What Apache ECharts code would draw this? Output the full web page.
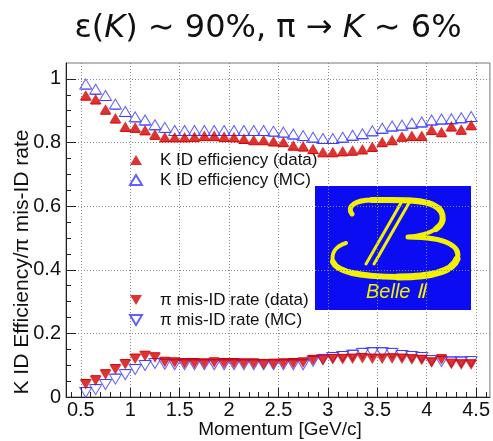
<!DOCTYPE html>
<html>
<head>
<meta charset="utf-8">
<script src="https://cdn.jsdelivr.net/npm/echarts@6/dist/echarts.min.js"></script>
<style>
  html, body { margin: 0; padding: 0; background: #fff; }
  #chart { width: 493px; height: 441px; }
</style>
</head>
<body>
<div id="chart"></div>
<script>
// Bin centres of the momentum histogram [GeV/c]
const momentum = [
  0.55, 0.65, 0.75, 0.85, 0.95, 1.05, 1.15, 1.25, 1.35, 1.45,
  1.55, 1.65, 1.75, 1.85, 1.95, 2.05, 2.15, 2.25, 2.35, 2.45,
  2.55, 2.65, 2.75, 2.85, 2.95, 3.05, 3.15, 3.25, 3.35, 3.45,
  3.55, 3.65, 3.75, 3.85, 3.95, 4.05, 4.15, 4.25, 4.35, 4.45
];

// Kaon identification efficiency
const kEffData = [
  0.933, 0.921, 0.889, 0.861, 0.835, 0.832, 0.824, 0.810, 0.802, 0.802,
  0.802, 0.803, 0.806, 0.806, 0.803, 0.802, 0.797, 0.793, 0.793, 0.789,
  0.787, 0.776, 0.773, 0.765, 0.755, 0.755, 0.758, 0.760, 0.764, 0.772,
  0.787, 0.793, 0.804, 0.806, 0.806, 0.825, 0.818, 0.836, 0.826, 0.840
];
const kEffMC = [
  0.968, 0.952, 0.932, 0.905, 0.882, 0.865, 0.855, 0.840, 0.832, 0.822,
  0.822, 0.822, 0.822, 0.822, 0.822, 0.822, 0.822, 0.822, 0.822, 0.820,
  0.817, 0.811, 0.806, 0.801, 0.797, 0.797, 0.801, 0.807, 0.812, 0.821,
  0.829, 0.836, 0.839, 0.845, 0.849, 0.855, 0.858, 0.859, 0.862, 0.866
];

// Pion mis-identification rate
const piMisData = [
  0.055, 0.067, 0.086, 0.102, 0.118, 0.135, 0.144, 0.139, 0.125, 0.123,
  0.121, 0.121, 0.120, 0.123, 0.121, 0.121, 0.120, 0.120, 0.118, 0.119,
  0.120, 0.121, 0.123, 0.131, 0.131, 0.134, 0.134, 0.135, 0.137, 0.135,
  0.135, 0.136, 0.135, 0.133, 0.131, 0.123, 0.133, 0.119, 0.117, 0.117
];
const piMisMC = [
  0.030, 0.039, 0.055, 0.072, 0.086, 0.102, 0.115, 0.121, 0.119, 0.117,
  0.117, 0.117, 0.117, 0.117, 0.117, 0.117, 0.117, 0.117, 0.117, 0.117,
  0.117, 0.117, 0.117, 0.128, 0.134, 0.140, 0.143, 0.147, 0.153, 0.155,
  0.155, 0.153, 0.146, 0.143, 0.140, 0.130, 0.127, 0.126, 0.126, 0.127
];

// Axis tick values
const xTickValues = [0.5, 1, 1.5, 2, 2.5, 3, 3.5, 4, 4.5];
const yTickValues = [0, 0.2, 0.4, 0.6, 0.8, 1];

const seriesNames = [
  'K ID efficiency (data)', 'K ID efficiency (MC)',
  'π mis-ID rate (data)', 'π mis-ID rate (MC)'
];

const X_MIN = 0.35, X_MAX = 4.64, Y_MIN = 0, Y_MAX = 1.05;
const BIN_HALF = 0.05;
const RED = '#d40000';
const BLUE = '#3a3aff';
const YELLOW = '#f2f200';
const LABEL_FONT = '"Liberation Sans", Arial, sans-serif';
const DOWN_TRIANGLE = 'path://M0,0 L12,0 L6,10 Z';

// minor tick positions derived from the major ticks
const xMinor = [];
for (let i = 0; i < xTickValues.length - 1; i++) {
  for (let k = 1; k < 5; k++) xMinor.push(+(xTickValues[i] + k * 0.1).toFixed(2));
}
xMinor.unshift(0.4); xMinor.push(4.6);
const yMinor = [];
for (let i = 0; i < yTickValues.length - 1; i++) {
  for (let k = 1; k < 4; k++) yMinor.push(+(yTickValues[i] + k * 0.05).toFixed(2));
}

const pairs = arr => momentum.map((x, i) => [x, arr[i]]);

// horizontal bin-width bars of the histogram points
function binBars(values, color, z) {
  return {
    type: 'custom',
    z: z,
    silent: true,
    data: pairs(values),
    renderItem: function (params, api) {
      const x = api.value(0), y = api.value(1);
      const p1 = api.coord([x - BIN_HALF, y]);
      const p2 = api.coord([x + BIN_HALF, y]);
      return {
        type: 'line',
        shape: { x1: p1[0], y1: p1[1], x2: p2[0], y2: p2[1] },
        style: { stroke: color, lineWidth: 1 }
      };
    }
  };
}

function markers(name, values, filled, down, z) {
  return {
    type: 'scatter',
    name: name,
    z: z,
    data: pairs(values),
    symbol: down ? DOWN_TRIANGLE : 'triangle',
    symbolSize: [12, 10],
    symbolOffset: [0, down ? 5 : -5],
    itemStyle: filled
      ? { color: RED }
      : { color: 'rgba(255,255,255,0)', borderColor: BLUE, borderWidth: 1 },
    emphasis: { disabled: true }
  };
}

// pieces of the logo letter
function curve(p, w) {
  return {
    type: 'bezierCurve',
    shape: { x1: p[0], y1: p[1], cpx1: p[2], cpy1: p[3], cpx2: p[4], cpy2: p[5], x2: p[6], y2: p[7] },
    style: { fill: null, stroke: YELLOW, lineWidth: w, lineCap: 'round' }
  };
}
function seg(p, w) {
  return {
    type: 'line',
    shape: { x1: p[0], y1: p[1], x2: p[2], y2: p[3] },
    style: { stroke: YELLOW, lineWidth: w, lineCap: 'round' }
  };
}

const chart = echarts.init(document.getElementById('chart'), null, { renderer: 'canvas' });

const legendCommon = {
  orient: 'vertical',
  left: 129,
  padding: 0,
  itemGap: 0,
  itemWidth: 12,
  itemHeight: 10,
  selectedMode: false,
  textStyle: { fontFamily: LABEL_FONT, fontSize: 17, color: '#111', padding: [0, 0, 0, 13], lineHeight: 20 }
};

chart.setOption({
  animation: false,
  backgroundColor: '#fff',
  grid: {
    left: 66, right: 0, top: 63, bottom: 44,
    show: true, borderColor: '#777', borderWidth: 1, backgroundColor: 'transparent'
  },
  legend: [
    Object.assign({}, legendCommon, { top: 150, data: seriesNames.slice(0, 2) }),
    Object.assign({}, legendCommon, {
      top: 290,
      data: [
        { name: seriesNames[2], icon: DOWN_TRIANGLE },
        { name: seriesNames[3], icon: DOWN_TRIANGLE }
      ]
    })
  ],
  xAxis: [
    {
      type: 'value', min: X_MIN, max: X_MAX, position: 'bottom',
      axisLine: { show: true, lineStyle: { color: '#222', width: 1 } },
      axisTick: { show: true, inside: true, length: 9, customValues: xTickValues, lineStyle: { color: '#222' } },
      axisLabel: { customValues: xTickValues, fontFamily: LABEL_FONT, fontSize: 20, color: '#111', margin: 3 },
      splitLine: { show: true, lineStyle: { type: [1, 2], color: '#8a8a8a', width: 1 } }
    },
    {
      type: 'value', min: X_MIN, max: X_MAX, position: 'bottom',
      axisLine: { show: false },
      axisTick: { show: true, inside: true, length: 5, customValues: xMinor, lineStyle: { color: '#222' } },
      axisLabel: { show: false },
      splitLine: { show: false }
    }
  ],
  yAxis: [
    {
      type: 'value', min: Y_MIN, max: Y_MAX, position: 'left',
      axisLine: { show: true, lineStyle: { color: '#222', width: 1 } },
      axisTick: { show: true, inside: true, length: 10, customValues: yTickValues, lineStyle: { color: '#222' } },
      axisLabel: { customValues: yTickValues, fontFamily: LABEL_FONT, fontSize: 20, color: '#111', margin: 5 },
      splitLine: { show: true, lineStyle: { type: [1, 2], color: '#8a8a8a', width: 1 } }
    },
    {
      type: 'value', min: Y_MIN, max: Y_MAX, position: 'left', offset: 0,
      axisLine: { show: false },
      axisTick: { show: true, inside: true, length: 5, customValues: yMinor, lineStyle: { color: '#222' } },
      axisLabel: { show: false },
      splitLine: { show: false }
    }
  ],
  series: [
    binBars(kEffMC, BLUE, 2),
    markers(seriesNames[1], kEffMC, false, false, 3),
    binBars(kEffData, RED, 4),
    markers(seriesNames[0], kEffData, true, false, 5),
    binBars(piMisMC, BLUE, 2),
    markers(seriesNames[3], piMisMC, false, true, 3),
    binBars(piMisData, RED, 4),
    markers(seriesNames[2], piMisData, true, true, 5)
  ],
  graphic: [
    // headline
    {
      type: 'text', x: 268, y: 29, z: 20,
      style: {
        text: '{n|ε(}{i|K}{n|) ∼ 90%, π → }{i|K}{n| ∼ 6%}',
        align: 'center', verticalAlign: 'middle',
        rich: {
          n: { fontFamily: '"DejaVu Sans", sans-serif', fontSize: 32, fill: '#111' },
          i: { fontFamily: '"DejaVu Sans", sans-serif', fontSize: 32, fontStyle: 'italic', fill: '#111' }
        }
      }
    },
    // axis titles
    {
      type: 'text', x: 22, y: 262, rotation: Math.PI / 2, z: 20,
      style: {
        text: 'K ID Efficiency/π mis-ID rate', fontFamily: LABEL_FONT, fontSize: 21,
        fill: '#111', align: 'center', verticalAlign: 'middle'
      }
    },
    {
      type: 'text', x: 280, y: 430, z: 20,
      style: {
        text: 'Momentum [GeV/c]', fontFamily: LABEL_FONT, fontSize: 19,
        fill: '#111', align: 'center', verticalAlign: 'middle'
      }
    },
    // Belle II logo
    {
      type: 'group', z: 30,
      children: [
        { type: 'rect', shape: { x: 315, y: 186, width: 156, height: 124 }, style: { fill: '#0c0cf2' } },
        curve([352, 214, 346, 206, 356, 200, 372, 200], 5),
        curve([372, 200, 395, 200, 415, 199, 428, 203], 6),
        curve([428, 203, 446, 208, 446, 222, 436, 229], 6),
        curve([436, 229, 428, 234, 418, 236, 408, 237], 4),
        curve([408, 237, 450, 237, 461, 248, 457, 259], 5),
        curve([457, 259, 452, 273, 428, 277, 398, 277], 7),
        curve([398, 277, 362, 277, 337, 272, 333, 262], 6),
        curve([333, 262, 331, 253, 336, 246, 346, 243], 4),
        seg([401, 203, 366, 264], 3),
        seg([409, 203, 374, 264], 3),
        {
          type: 'text', x: 396, y: 292,
          style: {
            text: 'Belle Ⅱ', fontFamily: LABEL_FONT, fontSize: 20, fontStyle: 'italic',
            fill: YELLOW, align: 'center', verticalAlign: 'middle'
          }
        }
      ]
    }
  ]
});
</script>
</body>
</html>
